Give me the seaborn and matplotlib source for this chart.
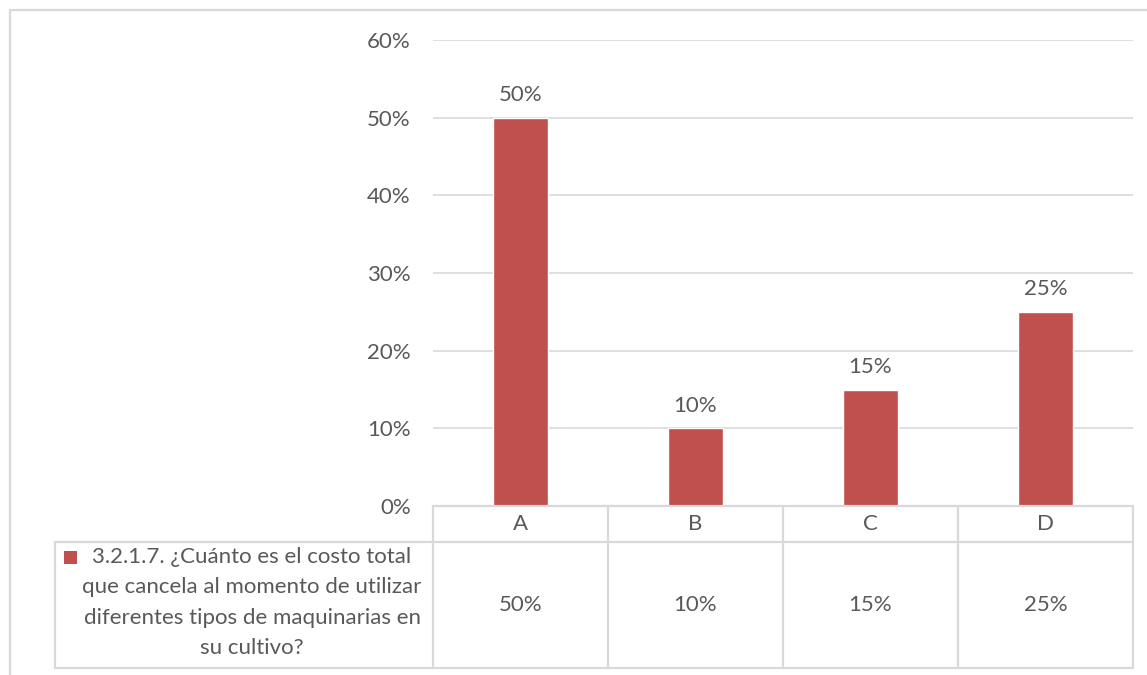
import matplotlib
matplotlib.use("Agg")
import matplotlib.pyplot as plt
import matplotlib.transforms as mtransforms
import seaborn as sns
import pandas as pd

# Chart data
categories = ["A", "B", "C", "D"]
values = [50, 10, 15, 25]
series_label = ["3.2.1.7. ¿Cuánto es el costo total",
                "que cancela al momento de utilizar",
                "diferentes tipos de maquinarias en",
                "su cultivo?"]
y_ticks = [0, 10, 20, 30, 40, 50, 60]

BAR = "#C0504D"
TXT = "#595959"
GRID = "#D9D9D9"
W, H = 1147, 675
FS = 16

sns.set_theme(style="white")
plt.rcParams["font.family"] = ["Lato", "DejaVu Sans"]

df = pd.DataFrame({"cat": categories, "val": values})

fig = plt.figure(figsize=(W / 100, H / 100), dpi=100)
fig.patch.set_facecolor("white")

# plot area in pixel layout
L, R, T, B = 433, 1133, 40, 506
ax = fig.add_axes([L / W, 1 - B / H, (R - L) / W, (B - T) / H])
sns.barplot(data=df, x="cat", y="val", color=BAR, saturation=1, width=0.314, ax=ax)
ax.set_xlim(-0.5, len(categories) - 0.5)
ax.set_ylim(0, 60)
ax.set_yticks(y_ticks)
ax.set_yticklabels([f"{t}%" for t in y_ticks], color=TXT, fontsize=FS)
ax.tick_params(axis="y", length=0, pad=16)
ax.set_xticks([])
ax.set_xlabel("")
ax.set_ylabel("")
for s in ax.spines.values():
    s.set_visible(False)
ax.grid(axis="y", color=GRID, linewidth=1.2)
ax.set_axisbelow(True)

for cont in ax.containers:
    ax.bar_label(cont, labels=[f"{v}%" for v in values], padding=9,
                 color=TXT, fontsize=FS)

# data table under the plot
blend = mtransforms.blended_transform_factory(ax.transData, ax.transAxes)
ph = B - T
hdr_y = (B - 524) / ph
row_y = (B - 605) / ph
for i, (c, v) in enumerate(zip(categories, values)):
    ax.text(i, hdr_y, c, transform=blend, ha="center", va="center",
            color=TXT, fontsize=FS, clip_on=False)
    ax.text(i, row_y, f"{v}%", transform=blend, ha="center", va="center",
            color=TXT, fontsize=FS, clip_on=False)

# overlay in pixel coordinates for borders and table grid
ov = fig.add_axes([0, 0, 1, 1], facecolor="none")
ov.set_xlim(0, W)
ov.set_ylim(H, 0)
ov.axis("off")
lw = 1.6
# outer chart border
ov.plot([10, 10], [10, H], color=GRID, lw=lw)
ov.plot([10, W], [10, 10], color=GRID, lw=lw)
# table rows
ov.plot([L, R], [B, B], color=GRID, lw=lw)
ov.plot([55, R], [542, 542], color=GRID, lw=lw)
ov.plot([55, R], [668, 668], color=GRID, lw=lw)
ov.plot([55, 55], [542, 668], color=GRID, lw=lw)
step = (R - L) / len(categories)
for k in range(len(categories) + 1):
    x = L + k * step
    ov.plot([x, x], [B, 668], color=GRID, lw=lw)

# series legend cell
ov.add_patch(plt.Rectangle((64, 551), 13, 13, color=BAR, lw=0))
for j, line in enumerate(series_label):
    ov.text(252, 557 + j * 30.3, line, ha="center", va="center",
            color=TXT, fontsize=FS)

fig.savefig("out.png", dpi=100, facecolor="white")
